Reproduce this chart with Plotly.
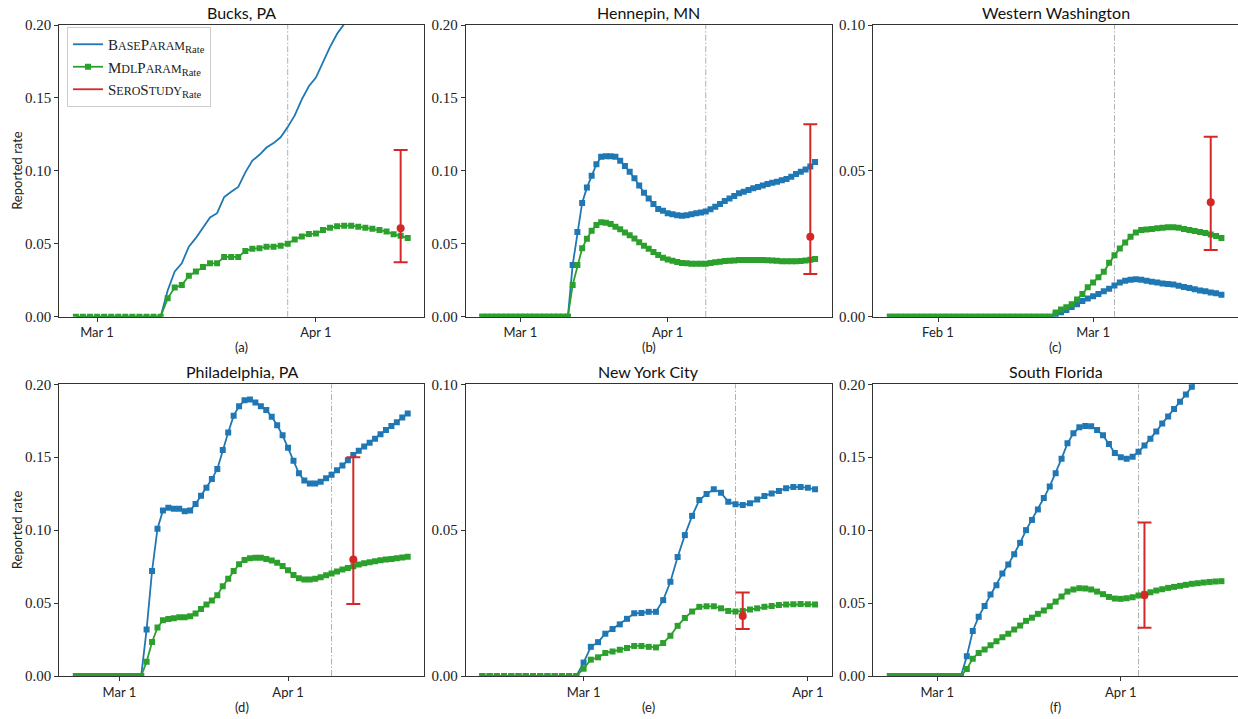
import pandas as pd
import plotly.graph_objects as go

BLUE = "#1f77b4"
GREEN = "#2ca02c"
RED = "#d62728"

# ---------------- data (daily series) ----------------
# (a) Bucks, PA
bucks_start = "2020-02-27"
bucks_base = [0, 0, 0, 0, 0, 0, 0, 0, 0, 0, 0, 0, 0,
              0.018, 0.031, 0.0366, 0.048, 0.054, 0.0606, 0.068, 0.071, 0.082, 0.0857,
              0.089, 0.099, 0.107, 0.111, 0.116, 0.119, 0.123, 0.130, 0.138, 0.149,
              0.158, 0.164, 0.175, 0.185, 0.194, 0.2007, 0.208, 0.215, 0.222, 0.229,
              0.236, 0.242, 0.248, 0.254, 0.260]
bucks_mdl = [0, 0, 0, 0, 0, 0, 0, 0, 0, 0, 0, 0, 0,
             0.0126, 0.020, 0.0217, 0.028, 0.031, 0.034, 0.0366, 0.0366, 0.041, 0.041,
             0.041, 0.045, 0.0466, 0.047, 0.048, 0.048, 0.0487, 0.050, 0.053, 0.055,
             0.0567, 0.057, 0.0594, 0.061, 0.062, 0.0624, 0.0624, 0.0617, 0.061, 0.0603,
             0.0594, 0.0585, 0.0565, 0.0555, 0.054]

# (b) Hennepin, MN
hennepin_start = "2020-02-22"
hennepin_base = [0, 0, 0, 0, 0, 0, 0, 0, 0, 0, 0, 0, 0, 0, 0, 0, 0, 0, 0,
                 0.0354, 0.058, 0.078, 0.0885, 0.0967, 0.1045, 0.1097, 0.110, 0.110, 0.1097,
                 0.107, 0.1033, 0.0994, 0.0949, 0.090, 0.085, 0.081, 0.0773, 0.0738, 0.0727,
                 0.0709, 0.0702, 0.0695, 0.0693, 0.0695, 0.0702, 0.0709, 0.0715, 0.0722, 0.0736,
                 0.0754, 0.0773, 0.0793, 0.081, 0.0827, 0.0846, 0.0857, 0.0869, 0.088, 0.089,
                 0.090, 0.091, 0.0919, 0.0926, 0.0935, 0.0944, 0.096, 0.0978, 0.0994, 0.101,
                 0.1029, 0.106]
hennepin_mdl = [0, 0, 0, 0, 0, 0, 0, 0, 0, 0, 0, 0, 0, 0, 0, 0, 0, 0, 0,
                0.0217, 0.0354, 0.0469, 0.0535, 0.059, 0.0629, 0.0647, 0.0645, 0.0635, 0.0617,
                0.0599, 0.0578, 0.0558, 0.0537, 0.051, 0.0487, 0.0466, 0.0443, 0.0423, 0.0405,
                0.0393, 0.0384, 0.0375, 0.0368, 0.0366, 0.0363, 0.0363, 0.0363, 0.0363, 0.0368,
                0.0373, 0.0377, 0.0382, 0.0384, 0.0386, 0.0388, 0.0389, 0.0389, 0.0389, 0.0389,
                0.0388, 0.0387, 0.0385, 0.0383, 0.0381, 0.0380, 0.0380, 0.0380, 0.0382, 0.0385,
                0.039, 0.0395]

# (c) Western Washington
wa_start = "2020-01-23"
wa_base = [0, 0, 0, 0, 0, 0, 0, 0, 0, 0, 0, 0, 0, 0, 0, 0, 0, 0, 0, 0,
           0, 0, 0, 0, 0, 0, 0, 0, 0, 0, 0,
           0.0008, 0.0015, 0.0023, 0.0033, 0.0043, 0.0054, 0.0062, 0.007, 0.0078, 0.0087,
           0.0096, 0.0107, 0.0117, 0.0123, 0.0127, 0.0128, 0.0127, 0.0123, 0.012, 0.0117,
           0.0114, 0.0112, 0.011, 0.0106, 0.0102, 0.0098, 0.0094, 0.009, 0.0087, 0.0083,
           0.008, 0.0075]
wa_mdl = [0, 0, 0, 0, 0, 0, 0, 0, 0, 0, 0, 0, 0, 0, 0, 0, 0, 0, 0, 0,
          0, 0, 0, 0, 0, 0, 0, 0, 0, 0, 0,
          0.0014, 0.0025, 0.0032, 0.0043, 0.0059, 0.0078, 0.0101, 0.0117, 0.0135, 0.0154,
          0.0185, 0.0211, 0.0234, 0.0254, 0.0274, 0.0289, 0.0297, 0.0299, 0.0301, 0.0303,
          0.0305, 0.0307, 0.0307, 0.0305, 0.0301, 0.0297, 0.0294, 0.029, 0.0287, 0.0282,
          0.0277, 0.027]

# (d) Philadelphia, PA
phl_start = "2020-02-22"
phl_base = [0, 0, 0, 0, 0, 0, 0, 0, 0, 0, 0, 0, 0,
            0.0318, 0.072, 0.101, 0.1135, 0.1153, 0.1147, 0.1147, 0.113, 0.1135, 0.118,
            0.1236, 0.129, 0.135, 0.142, 0.155, 0.167, 0.1785, 0.185, 0.189, 0.1895,
            0.1876, 0.185, 0.1824, 0.1778, 0.172, 0.165, 0.1565, 0.1476, 0.139, 0.134,
            0.132, 0.132, 0.1332, 0.1355, 0.138, 0.141, 0.1444, 0.148, 0.1515, 0.1545,
            0.1574, 0.160, 0.1627, 0.1657, 0.1686, 0.1714, 0.174, 0.1773, 0.180]
phl_mdl = [0, 0, 0, 0, 0, 0, 0, 0, 0, 0, 0, 0, 0,
           0.0098, 0.0233, 0.0332, 0.0382, 0.039, 0.0396, 0.0403, 0.0403, 0.041, 0.0428,
           0.046, 0.049, 0.0517, 0.0554, 0.0616, 0.0666, 0.072, 0.0767, 0.0796, 0.0808,
           0.081, 0.081, 0.0803, 0.0792, 0.0776, 0.0755, 0.0725, 0.0693, 0.067, 0.0661,
           0.0661, 0.0666, 0.0677, 0.0691, 0.0703, 0.0716, 0.073, 0.0741, 0.0753, 0.0764,
           0.0773, 0.078, 0.0787, 0.0794, 0.0799, 0.0803, 0.0808, 0.0812, 0.0817]

# (e) New York City
nyc_start = "2020-02-16"
nyc_base = [0, 0, 0, 0, 0, 0, 0, 0, 0, 0, 0, 0, 0, 0,
            0.0046, 0.01, 0.0116, 0.0145, 0.0161, 0.0177, 0.0196, 0.0215, 0.0216, 0.022,
            0.022, 0.026, 0.0323, 0.0408, 0.0483, 0.0549, 0.0603, 0.0624, 0.064, 0.0628,
            0.0597, 0.0589, 0.0586, 0.0592, 0.0605, 0.0617, 0.0626, 0.0634, 0.0644, 0.0648,
            0.0648, 0.0645, 0.064]
nyc_mdl = [0, 0, 0, 0, 0, 0, 0, 0, 0, 0, 0, 0, 0, 0,
           0.0025, 0.0056, 0.0064, 0.0079, 0.0084, 0.009, 0.0096, 0.0103, 0.0103, 0.01,
           0.0098, 0.0113, 0.0138, 0.0172, 0.0199, 0.0221, 0.0237, 0.0239, 0.0239, 0.0232,
           0.0223, 0.0221, 0.0223, 0.0228, 0.0232, 0.0237, 0.024, 0.0243, 0.0245, 0.0246,
           0.0247, 0.0246, 0.0245]

# (f) South Florida
fl_start = "2020-02-22"
fl_base = [0, 0, 0, 0, 0, 0, 0, 0, 0, 0, 0, 0, 0,
           0.0135, 0.0309, 0.0407, 0.048, 0.0558, 0.0622, 0.0703, 0.0764, 0.0835, 0.0913,
           0.100, 0.107, 0.1142, 0.122, 0.130, 0.139, 0.149, 0.1595, 0.1664, 0.1705,
           0.1714, 0.1712, 0.1686, 0.165, 0.159, 0.1529, 0.150, 0.149, 0.1503, 0.1538,
           0.158, 0.1627, 0.1677, 0.1732, 0.178, 0.183, 0.188, 0.193, 0.1984, 0.204,
           0.209, 0.214, 0.219, 0.224]
fl_mdl = [0, 0, 0, 0, 0, 0, 0, 0, 0, 0, 0, 0, 0,
          0.0048, 0.0119, 0.0158, 0.0181, 0.021, 0.0238, 0.0265, 0.029, 0.0318, 0.0346,
          0.0378, 0.04, 0.0426, 0.0449, 0.0478, 0.051, 0.0545, 0.0579, 0.0593, 0.0602,
          0.06, 0.0593, 0.0579, 0.0561, 0.0542, 0.0531, 0.0529, 0.0533, 0.054, 0.0552,
          0.0563, 0.0574, 0.0586, 0.0595, 0.0604, 0.0611, 0.0618, 0.0625, 0.0632, 0.0636,
          0.0641, 0.0645, 0.0648, 0.065]

# serology study estimates: date, point, lower, upper
sero_dates = ["2020-04-13", "2020-05-01", "2020-03-23", "2020-04-13", "2020-03-23", "2020-04-05"]
sero_rate = [0.0606, 0.0549, 0.0392, 0.0799, 0.0206, 0.0554]
sero_low = [0.0373, 0.0293, 0.0229, 0.0494, 0.0161, 0.033]
sero_high = [0.1143, 0.132, 0.0617, 0.150, 0.0286, 0.1053]

# vertical reference dates
vline_dates = ["2020-03-28", "2020-04-09", "2020-03-05", "2020-04-09", "2020-03-22", "2020-04-04"]

titles = ["Bucks, PA", "Hennepin, MN", "Western Washington",
          "Philadelphia, PA", "New York City", "South Florida"]
tags = ["(a)", "(b)", "(c)", "(d)", "(e)", "(f)"]
y_max = [0.20, 0.20, 0.10, 0.20, 0.10, 0.20]
tick_dates = [["2020-03-01", "2020-04-01"], ["2020-03-01", "2020-04-01"],
              ["2020-02-01", "2020-03-01"], ["2020-03-01", "2020-04-01"],
              ["2020-03-01", "2020-04-01"], ["2020-03-01", "2020-04-01"]]
tick_labels = [["Mar 1", "Apr 1"], ["Mar 1", "Apr 1"], ["Feb 1", "Mar 1"],
               ["Mar 1", "Apr 1"], ["Mar 1", "Apr 1"], ["Mar 1", "Apr 1"]]

starts = [bucks_start, hennepin_start, wa_start, phl_start, nyc_start, fl_start]
bases = [bucks_base, hennepin_base, wa_base, phl_base, nyc_base, fl_base]
mdls = [bucks_mdl, hennepin_mdl, wa_mdl, phl_mdl, nyc_mdl, fl_mdl]

# ---------------- layout geometry ----------------
W, H = 1238, 719
col_px = [(59.3, 424.3), (465.7, 831.7), (873.3, 1238.0)]
row_px = [(25.0, 316.7), (384.3, 676.0)]

FONT_SANS = "Lato"
FONT_SERIF = "Liberation Serif"

def sc(t):
    return '<span style="font-size:12px">' + t + '</span>'

name_base = "B" + sc("ASE") + "P" + sc("ARAM") + "<sub>Rate</sub>"
name_mdl = "M" + sc("DL") + "P" + sc("ARAM") + "<sub>Rate</sub>"
name_sero = "S" + sc("ERO") + "S" + sc("TUDY") + "<sub>Rate</sub>"

fig = go.Figure()
layout = dict(width=W, height=H,
              margin=dict(l=0, r=0, t=0, b=0, pad=0, autoexpand=False),
              paper_bgcolor="white", plot_bgcolor="white", autosize=False,
              showlegend=True)
annotations = []
shapes = []

for i in range(6):
    r, c = divmod(i, 3)
    ax = "" if i == 0 else str(i + 1)
    xa, ya = "x" + ax, "y" + ax
    x0, x1 = col_px[c]
    y0, y1 = row_px[r]
    xdom = [x0 / W, min(x1 / W, 1.0)]
    ydom = [1 - y1 / H, 1 - y0 / H]

    dates_b = pd.date_range(starts[i], periods=len(bases[i]), freq="D")
    dates_m = pd.date_range(starts[i], periods=len(mdls[i]), freq="D")
    lo = min(dates_b.min(), dates_m.min())
    hi = max(dates_b.max(), dates_m.max())
    span = hi - lo
    xr = [(lo - span * 0.05).strftime("%Y-%m-%d %H:%M:%S"),
          (hi + span * 0.05).strftime("%Y-%m-%d %H:%M:%S")]

    first = (i == 0)
    fig.add_trace(go.Scatter(
        x=dates_b, y=bases[i], xaxis=xa, yaxis=ya,
        mode="lines" if first else "lines+markers",
        line=dict(color=BLUE, width=1.8),
        marker=dict(symbol="square", size=6, color=BLUE),
        name=name_base, showlegend=first, legendrank=1))
    fig.add_trace(go.Scatter(
        x=dates_m, y=mdls[i], xaxis=xa, yaxis=ya, mode="lines+markers",
        line=dict(color=GREEN, width=1.8),
        marker=dict(symbol="square", size=6, color=GREEN),
        name=name_mdl, showlegend=first, legendrank=2))
    fig.add_trace(go.Scatter(
        x=[pd.Timestamp(sero_dates[i])], y=[sero_rate[i]], xaxis=xa, yaxis=ya,
        mode="markers", marker=dict(symbol="circle", size=8, color=RED),
        error_y=dict(type="data", symmetric=False,
                     array=[sero_high[i] - sero_rate[i]],
                     arrayminus=[sero_rate[i] - sero_low[i]],
                     color=RED, thickness=2, width=7),
        showlegend=False))
    if first:
        fig.add_trace(go.Scatter(
            x=[None], y=[None], xaxis=xa, yaxis=ya, mode="lines",
            line=dict(color=RED, width=1.8), name=name_sero,
            showlegend=True, legendrank=3))

    layout["xaxis" + ax] = dict(
        domain=xdom, anchor=ya, type="date", range=xr,
        tickmode="array", tickvals=tick_dates[i], ticktext=tick_labels[i],
        ticks="outside", ticklen=4, tickwidth=1, tickcolor="#333",
        showline=True, linecolor="#333", linewidth=1, mirror=True,
        showgrid=False, zeroline=False,
        tickfont=dict(family=FONT_SANS, size=13, color="#222"))
    layout["yaxis" + ax] = dict(
        domain=ydom, anchor=xa, range=[0, y_max[i]], dtick=0.05, tick0=0,
        tickformat=".2f",
        ticks="outside", ticklen=4, tickwidth=1, tickcolor="#333",
        showline=True, linecolor="#333", linewidth=1, mirror=True,
        showgrid=False, zeroline=False,
        tickfont=dict(family=FONT_SERIF, size=15, color="#222"))

    shapes.append(dict(type="line", xref=xa, yref=ya + " domain",
                       x0=vline_dates[i], x1=vline_dates[i], y0=0, y1=1,
                       line=dict(color="#b0b0b0", width=1, dash="6px,2px,1.5px,2px"),
                       layer="below"))

    xc = (x0 + x1) / 2 / W
    annotations.append(dict(text=titles[i], x=xc, y=ydom[1], xref="paper", yref="paper",
                            xanchor="center", yanchor="bottom", yshift=1, showarrow=False,
                            font=dict(family=FONT_SANS, size=16, color="#111")))
    annotations.append(dict(text=tags[i], x=xc, y=1 - (y1 + 30.5) / H, xref="paper", yref="paper",
                            xanchor="center", yanchor="middle", showarrow=False,
                            font=dict(family=FONT_SANS, size=13, color="#222")))
    if c == 0:
        annotations.append(dict(text="Reported rate", x=17 / W, y=(ydom[0] + ydom[1]) / 2,
                                xref="paper", yref="paper", textangle=-90,
                                xanchor="center", yanchor="middle", showarrow=False,
                                font=dict(family=FONT_SANS, size=13, color="#222")))

layout["annotations"] = annotations
layout["shapes"] = shapes
layout["legend"] = dict(x=67 / W, y=1 - 27 / H, xanchor="left", yanchor="top",
                        bgcolor="rgba(255,255,255,0.85)", bordercolor="#cccccc",
                        borderwidth=1, traceorder="normal", tracegroupgap=0,
                        font=dict(family=FONT_SERIF, size=15, color="#222"))
fig.update_layout(**layout)
fig.write_html("out.html")
